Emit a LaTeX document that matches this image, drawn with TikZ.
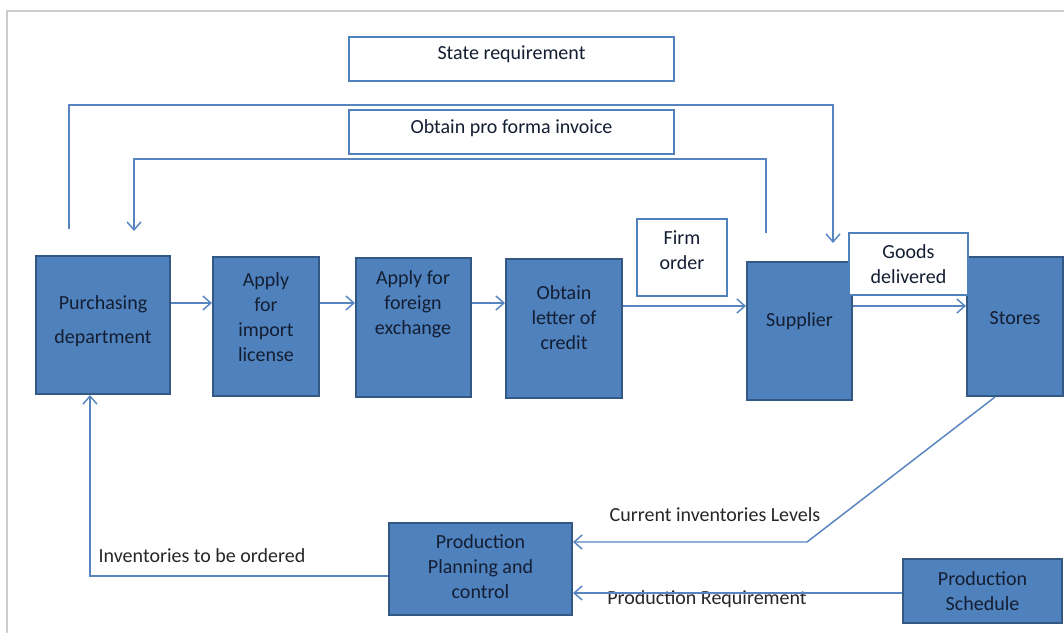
\documentclass[tikz,border=0pt]{standalone}
\usepackage{fontspec}
\setmainfont{Carlito}
\usepackage{xcolor}
\usepackage{tikz}
\usetikzlibrary{arrows.meta}
\definecolor{boxblue}{RGB}{79,129,189}
\definecolor{boxedge}{RGB}{52,88,132}
\definecolor{linkblue}{RGB}{88,133,192}
\definecolor{framegray}{RGB}{205,205,205}
\definecolor{inkdark}{RGB}{20,30,50}
\tikzset{
  bluebox/.style={
    draw=boxedge,fill=boxblue,line width=1.5pt,rectangle,
  },
  whitebox/.style={
    draw=boxblue,fill=white,line width=2.2pt,rectangle,
  },
  boxdim/.style 2 args={minimum width=#1*0.75pt,minimum height=#2*0.75pt},
  boxtext/.style={align=center,text=inkdark,inner sep=0pt},
  flowlabel/.style={text=black!85,inner sep=0pt},
  link/.style={draw=linkblue,line width=1.1pt},
}

\begin{document}
\begin{tikzpicture}[x=0.75pt,y=-0.75pt,>={Straight Barb[length=6pt,width=10.5pt]},
    font=\fontsize{15}{18.75}\selectfont]
			\useasboundingbox (0,0) rectangle (1064,633);
			\draw[framegray,line width=0.8pt] (7,633) -- (7,11) -- (1064,11);
			% requests on top
			\node[whitebox,boxdim={325}{44}] (statereq) at (511.5,59) {};
			\node[boxtext] (statereqT) at (511.5,54) {State requirement};
			\node[whitebox,boxdim={325}{44}] (proforma) at (511.5,132) {};
			\node[boxtext] (proformaT) at (511.5,128) {Obtain pro forma invoice};
			% main row
			\node[bluebox,boxdim={134}{138}] (purch) at (103,325) {};
			\node[boxtext] (purchT) at (103,321) {Purchasing\\[6.75pt]department};
			\node[bluebox,boxdim={106}{139}] (imp) at (266,326.5) {};
			\node[boxtext] (impT) at (266,317.5) {Apply\\for\\import\\license};
			\node[bluebox,boxdim={115}{139}] (forex) at (413.5,327.5) {};
			\node[boxtext] (forexT) at (413,304) {Apply for\\foreign\\exchange};
			\node[bluebox,boxdim={116}{139}] (credit) at (564,328.5) {};
			\node[boxtext] (creditT) at (564,318) {Obtain\\letter of\\credit};
			\node[whitebox,boxdim={90}{77}] (firm) at (682,257.5) {};
			\node[boxtext] (firmT) at (682,250) {Firm\\order};
			\node[bluebox,boxdim={105}{138}] (supp) at (799.5,331) {};
			\node[boxtext] (suppT) at (799.5,321) {Supplier};
			\node[bluebox,boxdim={96}{139}] (stores) at (1015,326.5) {};
			\node[boxtext] (storesT) at (1015,318) {Stores};
			\node[whitebox,boxdim={119}{62}] (goods) at (908.5,264) {};
			\node[boxtext] (goodsT) at (908.5,264) {Goods\\delivered};
			% planning row
			\node[bluebox,boxdim={183}{92}] (pp) at (480.5,569) {};
			\node[boxtext] (ppT) at (480.5,567) {Production\\Planning and\\control};
			\node[bluebox,boxdim={159}{64}] (sched) at (982.5,591) {};
			\node[boxtext] (schedT) at (982.5,591) {Production\\Schedule};
			% labels
			\node[flowlabel] (curL) at (715,515) {Current inventories Levels};
			\node[flowlabel] (invL) at (202,556) {Inventories to be ordered};
			\node[flowlabel] (reqL) at (707,599) {Production Requirement};
			% connectors
			\coordinate (rowA) at (0,303);
			\coordinate (rowB) at (0,306);
			\draw[link,->] (purch.east |- rowA) -- (imp.west |- rowA);
			\draw[link,->] (imp.east |- rowA) -- (forex.west |- rowA);
			\draw[link,->] (forex.east |- rowA) -- (credit.west |- rowA);
			\draw[link,->] (credit.east |- rowB) -- (supp.west |- rowB);
			\draw[link,->] (supp.east |- rowB) -- (stores.west |- rowB);
			\coordinate (outerS) at (69,229);
			\coordinate (outerTop) at (69,105);
			\coordinate (outerE) at (833,243);
			\draw[link,->] (outerS) -- (outerTop) -| (outerE);
			\coordinate (innerS) at (766,233);
			\coordinate (innerTop) at (766,159);
			\coordinate (innerE) at (134,231);
			\draw[link,->] (innerS) -- (innerTop) -| (innerE);
			\coordinate (invBend) at (90,576);
			\draw[link,->] (pp.west |- invBend) -- (invBend) -- (purch.south -| invBend);
			\coordinate (curX) at (995,0);
			\coordinate (curBend) at (807,542);
			\draw[link,->] (stores.south -| curX) -- (curBend) -- (pp.east |- curBend);
			\coordinate (reqRow) at (0,593);
			\draw[link,->] (sched.west |- reqRow) -- (pp.east |- reqRow);
		\end{tikzpicture}
\end{document}
